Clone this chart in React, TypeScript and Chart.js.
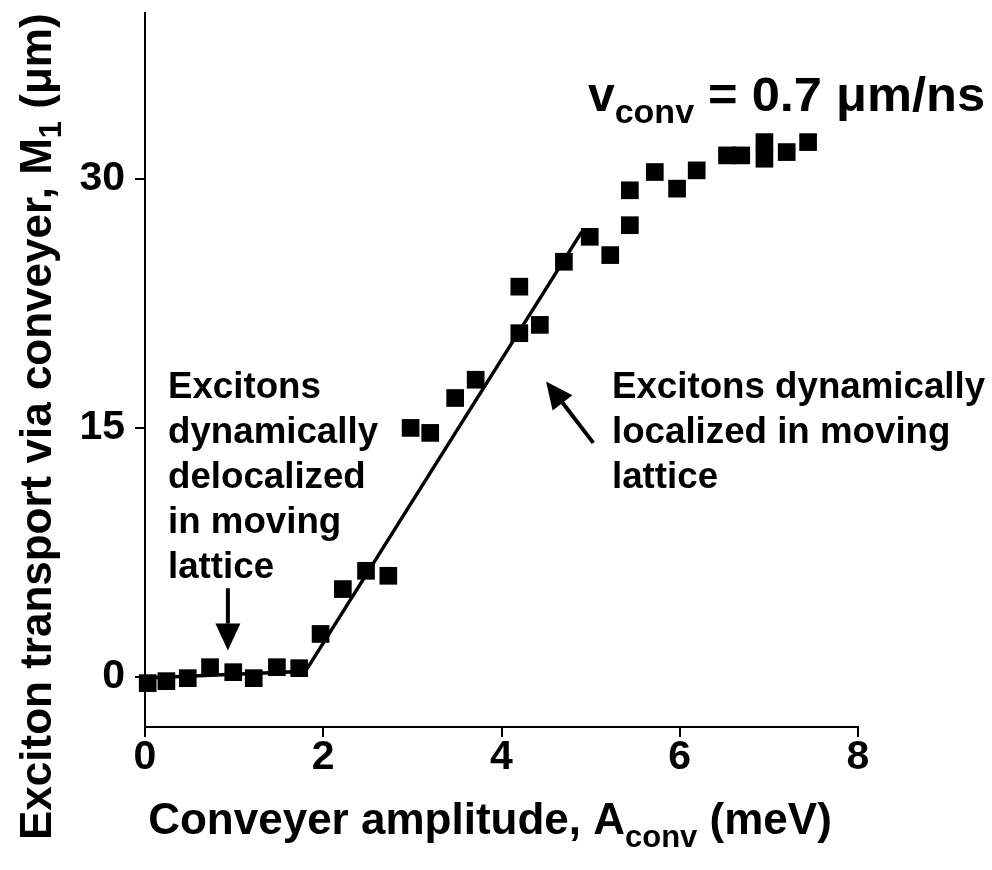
import React, { useEffect, useRef } from "react";
import { Chart, registerables } from "chart.js";

Chart.register(...registerables);

// Measured data: conveyer amplitude (meV) vs exciton transport M1 (µm)
const amplitude = [
  0.03, 0.24, 0.48, 0.73, 0.99, 1.22, 1.48, 1.73, 1.97, 2.22, 2.48, 2.73,
  2.98, 3.2, 3.48, 3.71, 4.2, 4.2, 4.43, 4.7, 4.99, 5.22, 5.44, 5.44, 5.72,
  5.97, 6.19, 6.53, 6.69, 6.95, 6.95, 7.2, 7.44,
];
const transport = [
  -0.36, -0.24, -0.06, 0.6, 0.3, -0.06, 0.6, 0.54, 2.6, 5.3, 6.4, 6.1, 15.0,
  14.7, 16.8, 17.9, 20.7, 23.5, 21.2, 25.0, 26.5, 25.4, 27.2, 29.3, 30.4,
  29.4, 30.5, 31.4, 31.4, 32.2, 31.2, 31.6, 32.2,
];

// Piecewise guide line
const fitX = [0, 1.8, 4.9];
const fitY = [-0.05, 0.35, 26.8];

// Axis ticks
const xTicks = [0, 2, 4, 6, 8];
const yTicks = [0, 15, 30];

// Annotation arrows in data units: [tailX, tailY, tipX, tipY]
const leftArrow = [0.93, 5.35, 0.93, 1.6];
const rightArrow = [5.03, 14.1, 4.5, 17.8];

const FONT = "'Liberation Sans', Arial, Helvetica, sans-serif";

function drawArrow(
  ctx: CanvasRenderingContext2D,
  x1: number,
  y1: number,
  x2: number,
  y2: number,
  headLen: number,
  headW: number,
  lw: number
) {
  const ang = Math.atan2(y2 - y1, x2 - x1);
  const bx = x2 - headLen * Math.cos(ang);
  const by = y2 - headLen * Math.sin(ang);
  ctx.beginPath();
  ctx.lineWidth = lw;
  ctx.moveTo(x1, y1);
  ctx.lineTo(bx, by);
  ctx.stroke();
  const px = -Math.sin(ang);
  const py = Math.cos(ang);
  ctx.beginPath();
  ctx.moveTo(x2, y2);
  ctx.lineTo(bx + (px * headW) / 2, by + (py * headW) / 2);
  ctx.lineTo(bx - (px * headW) / 2, by - (py * headW) / 2);
  ctx.closePath();
  ctx.fill();
}

const annotationPlugin = {
  id: "annotations",
  afterDraw(chart: any) {
    const ctx: CanvasRenderingContext2D = chart.ctx;
    const xs = chart.scales.x;
    const ys = chart.scales.y;
    ctx.save();
    ctx.fillStyle = "#000";
    ctx.strokeStyle = "#000";
    ctx.textBaseline = "alphabetic";
    ctx.textAlign = "left";

    // Arrows
    drawArrow(
      ctx,
      xs.getPixelForValue(leftArrow[0]),
      ys.getPixelForValue(leftArrow[1]),
      xs.getPixelForValue(leftArrow[2]),
      ys.getPixelForValue(leftArrow[3]),
      27,
      25,
      4
    );
    drawArrow(
      ctx,
      xs.getPixelForValue(rightArrow[0]),
      ys.getPixelForValue(rightArrow[1]),
      xs.getPixelForValue(rightArrow[2]),
      ys.getPixelForValue(rightArrow[3]),
      27,
      25,
      4
    );

    // Text blocks
    ctx.font = `bold 36.7px ${FONT}`;
    const leftLines = ["Excitons", "dynamically", "delocalized", "in moving", "lattice"];
    leftLines.forEach((t, i) => ctx.fillText(t, 168, 398 + i * 45));
    const rightLines = ["Excitons dynamically", "localized in moving", "lattice"];
    rightLines.forEach((t, i) => ctx.fillText(t, 612, 398 + i * 45));

    // v_conv label
    let cx = 588;
    ctx.font = `bold 48px ${FONT}`;
    ctx.fillText("v", cx, 111);
    cx += ctx.measureText("v").width;
    ctx.font = `bold 34px ${FONT}`;
    ctx.fillText("conv", cx, 123);
    cx += ctx.measureText("conv").width;
    ctx.font = `bold 48px ${FONT}`;
    const rest = " = 0.7 \u03bcm/ns";
    const restW = ctx.measureText(rest).width;
    // stretch slightly so the label ends where the original does
    const sx = Math.min(1.1, (985 - cx) / restW);
    ctx.save();
    ctx.translate(cx, 111);
    ctx.scale(sx, 1);
    ctx.fillText(rest, 0, 0);
    ctx.restore();

    // X axis title
    const mainF = `bold 44px ${FONT}`;
    const subF = `bold 31px ${FONT}`;
    const xParts: [string, string, number][] = [
      ["Conveyer amplitude, A", mainF, 0],
      ["conv", subF, 13],
      [" (meV)", mainF, 0],
    ];
    let total = 0;
    xParts.forEach(([t, f]) => {
      ctx.font = f;
      total += ctx.measureText(t).width;
    });
    let tx = 490 - total / 2;
    xParts.forEach(([t, f, dy]) => {
      ctx.font = f;
      ctx.fillText(t, tx, 834 + dy);
      tx += ctx.measureText(t).width;
    });

    // Y axis title (rotated)
    const mainY = `bold 44px ${FONT}`;
    const subY = `bold 31px ${FONT}`;
    ctx.save();
    ctx.translate(51, 840);
    ctx.rotate(-Math.PI / 2);
    const yParts: [string, string, number][] = [
      ["Exciton transport via conveyer, M", mainY, 0],
      ["1", subY, 10],
      [" (\u03bcm)", mainY, 0],
    ];
    let ty = 0;
    yParts.forEach(([t, f, dy]) => {
      ctx.font = f;
      ctx.fillText(t, ty, dy);
      ty += ctx.measureText(t).width;
    });
    ctx.restore();

    ctx.restore();
  },
};

export default function App() {
  const ref = useRef<HTMLCanvasElement | null>(null);

  useEffect(() => {
    if (!ref.current) return;
    const points = amplitude.map((a, i) => ({ x: a, y: transport[i] }));
    const fit = fitX.map((a, i) => ({ x: a, y: fitY[i] }));
    const tickFont = { family: FONT, size: 41, weight: "bold" as const };

    const chart = new Chart(ref.current, {
      type: "scatter",
      data: {
        datasets: [
          {
            label: "fit",
            data: fit,
            showLine: true,
            borderColor: "#000",
            borderWidth: 3.5,
            pointRadius: 0,
            fill: false,
            clip: false as any,
          },
          {
            label: "M1",
            data: points,
            pointStyle: "rect",
            pointRadius: 12.5,
            pointBorderWidth: 0,
            backgroundColor: "#000",
            borderColor: "#000",
            showLine: false,
            clip: false as any,
          },
        ],
      },
      plugins: [annotationPlugin],
      options: {
        responsive: false,
        animation: false,
        events: [],
        layout: { padding: { top: 12, right: 134, left: 0, bottom: 0 } },
        plugins: {
          legend: { display: false },
          tooltip: { enabled: false },
          title: { display: false },
        },
        scales: {
          x: {
            type: "linear",
            min: 0,
            max: 8,
            afterBuildTicks: (s: any) => {
              s.ticks = xTicks.map((v) => ({ value: v }));
            },
            afterFit: (s: any) => {
              s.height = 143;
              s.paddingLeft = 0;
              s.paddingRight = 0;
            },
            ticks: {
              color: "#000",
              font: tickFont,
              padding: -4,
              maxRotation: 0,
              autoSkip: false,
            },
            grid: {
              display: true,
              drawOnChartArea: false,
              drawTicks: true,
              tickLength: 10,
              color: "#000",
              lineWidth: 2,
            },
            border: { display: true, color: "#000", width: 2 },
          },
          y: {
            type: "linear",
            min: -3,
            max: 40,
            afterBuildTicks: (s: any) => {
              s.ticks = yTicks.map((v) => ({ value: v }));
            },
            afterFit: (s: any) => {
              s.width = 145;
              s.paddingTop = 0;
              s.paddingBottom = 0;
            },
            ticks: {
              color: "#000",
              font: tickFont,
              padding: 10,
              autoSkip: false,
            },
            grid: {
              display: true,
              drawOnChartArea: false,
              drawTicks: true,
              tickLength: 10,
              color: "#000",
              lineWidth: 2,
            },
            border: { display: true, color: "#000", width: 2 },
          },
        },
      },
    });
    return () => chart.destroy();
  }, []);

  return (
    <div style={{ position: "absolute", left: 0, top: 0, width: 992, height: 870, background: "#fff" }}>
      <canvas ref={ref} width={992} height={870} style={{ width: 992, height: 870 }} />
    </div>
  );
}
